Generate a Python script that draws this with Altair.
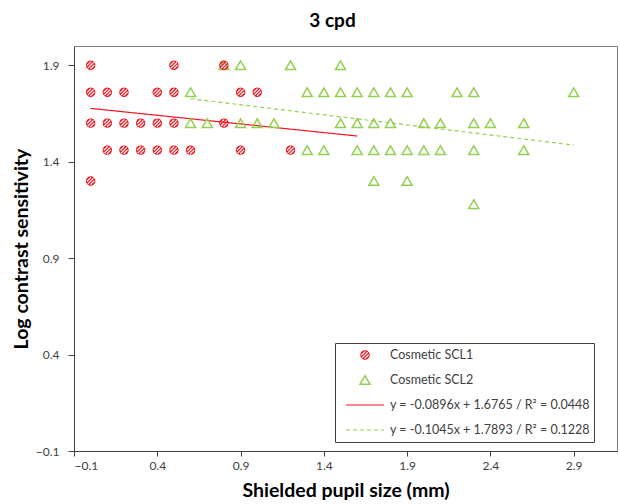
import math
import altair as alt
import pandas as pd

# ---------------- data ----------------
series_names = ["Cosmetic SCL1", "Cosmetic SCL2"]

scl1_x = [0.0, 0.5, 0.8,
          0.0, 0.1, 0.2, 0.4, 0.5, 0.9, 1.0,
          0.0, 0.1, 0.2, 0.3, 0.4, 0.5, 0.8,
          0.1, 0.2, 0.3, 0.4, 0.5, 0.6, 0.9, 1.2,
          0.0]
scl1_y = [1.9, 1.9, 1.9,
          1.76, 1.76, 1.76, 1.76, 1.76, 1.76, 1.76,
          1.6, 1.6, 1.6, 1.6, 1.6, 1.6, 1.6,
          1.46, 1.46, 1.46, 1.46, 1.46, 1.46, 1.46, 1.46,
          1.3]

scl2_x = [0.8, 0.9, 1.2, 1.5,
          0.6, 1.3, 1.4, 1.5, 1.6, 1.7, 1.8, 1.9, 2.2, 2.3, 2.9,
          0.6, 0.7, 0.9, 1.0, 1.1, 1.5, 1.6, 1.7, 1.8, 2.0, 2.1, 2.3, 2.4, 2.6,
          1.3, 1.4, 1.6, 1.7, 1.8, 1.9, 2.0, 2.1, 2.3, 2.6,
          1.7, 1.9,
          2.3]
scl2_y = [1.9, 1.9, 1.9, 1.9,
          1.76, 1.76, 1.76, 1.76, 1.76, 1.76, 1.76, 1.76, 1.76, 1.76, 1.76,
          1.6, 1.6, 1.6, 1.6, 1.6, 1.6, 1.6, 1.6, 1.6, 1.6, 1.6, 1.6, 1.6, 1.6,
          1.46, 1.46, 1.46, 1.46, 1.46, 1.46, 1.46, 1.46, 1.46, 1.46,
          1.3, 1.3,
          1.18]

trend_labels = ["y = -0.0896x + 1.6765 / R² = 0.0448",
                "y = -0.1045x + 1.7893 / R² = 0.1228"]
trend_slope = [-0.0896, -0.1045]
trend_intercept = [1.6765, 1.7893]
trend_x_from = [0.0, 0.6]
trend_x_to = [1.6, 2.9]

x_ticks = [-0.1, 0.4, 0.9, 1.4, 1.9, 2.4, 2.9]
y_ticks = [-0.1, 0.4, 0.9, 1.4, 1.9]

# ---------------- styling ----------------
RED = "#F0141E"
GREEN = "#92D050"
FONT = "Lato"
TXT = "#404040"

# hatched circle symbol: unit circle with diagonal stripe holes (nonzero winding)
def _area(pts):
    return sum(pts[i][0] * pts[(i + 1) % len(pts)][1] - pts[(i + 1) % len(pts)][0] * pts[i][1]
               for i in range(len(pts)))

circle = [(math.cos(2 * math.pi * k / 40), math.sin(2 * math.pi * k / 40)) for k in range(40)]
if _area(circle) < 0:
    circle = circle[::-1]
parts = ["M" + "L".join(f"{px:.3f},{py:.3f}" for px, py in circle) + "Z"]
s2 = 1 / math.sqrt(2)
d = (s2, -s2)
n = (s2, s2)
for c in (-0.5, 0.0, 0.5):
    w = 0.13
    r_in = 0.86
    L = math.sqrt(max(r_in ** 2 - (abs(c) + w) ** 2, 0.01))
    quad = []
    for a, b in ((c - w, -L), (c - w, L), (c + w, L), (c + w, -L)):
        quad.append((a * n[0] + b * d[0], a * n[1] + b * d[1]))
    if _area(quad) > 0:
        quad = quad[::-1]
    parts.append("M" + "L".join(f"{px:.3f},{py:.3f}" for px, py in quad) + "Z")
HATCH = "".join(parts)

legend_domain = series_names + trend_labels

# ---------------- frames ----------------
pts_df = pd.concat([
    pd.DataFrame({"x": scl2_x, "y": scl2_y, "series": series_names[1]}),
    pd.DataFrame({"x": scl1_x, "y": scl1_y, "series": series_names[0]}),
], ignore_index=True)

rows = []
for lab, m, b, x0, x1 in zip(trend_labels, trend_slope, trend_intercept, trend_x_from, trend_x_to):
    rows.append({"x": x0, "y": m * x0 + b, "series": lab})
    rows.append({"x": x1, "y": m * x1 + b, "series": lab})
trend_df = pd.DataFrame(rows)

xscale = alt.Scale(domain=[-0.1, 3.16], nice=False, zero=False)
yscale = alt.Scale(domain=[-0.1, 2.0], nice=False, zero=False)

xaxis = alt.Axis(values=x_ticks, format=".1f", title="Shielded pupil size (mm)", grid=False,
                 tickSize=5, labelPadding=4, titlePadding=10)
yaxis = alt.Axis(values=y_ticks, format=".1f", title="Log contrast sensitivity", grid=False,
                 tickSize=6, labelPadding=9, titlePadding=4)

leg = alt.Legend(title=None)

stroke_enc = alt.Stroke("series:N", scale=alt.Scale(domain=legend_domain,
                        range=["transparent", GREEN, RED, GREEN]), legend=leg)

lines = alt.Chart(trend_df).mark_line(strokeWidth=1.2).encode(
    x=alt.X("x:Q", scale=xscale, axis=xaxis),
    y=alt.Y("y:Q", scale=yscale, axis=yaxis),
    stroke=stroke_enc,
    strokeDash=alt.StrokeDash("series:N", scale=alt.Scale(domain=legend_domain,
                              range=[[1, 0], [1, 0], [1, 0], [4, 3]]), legend=leg),
)

points = alt.Chart(pts_df).mark_point(filled=False, opacity=1).encode(
    x=alt.X("x:Q", scale=xscale, axis=xaxis),
    y=alt.Y("y:Q", scale=yscale, axis=yaxis),
    shape=alt.Shape("series:N", scale=alt.Scale(domain=legend_domain,
                    range=[HATCH, "triangle-up", "stroke", "stroke"]), legend=leg),
    fill=alt.Fill("series:N", scale=alt.Scale(domain=legend_domain,
                  range=[RED, "transparent", "transparent", "transparent"]), legend=leg),
    stroke=stroke_enc,
    size=alt.Size("series:N", scale=alt.Scale(type="ordinal", domain=legend_domain,
                  range=[88, 100, 1444, 1444]), legend=leg),
    strokeWidth=alt.StrokeWidth("series:N", scale=alt.Scale(type="ordinal", domain=legend_domain,
                                range=[0, 1.5, 1.2, 1.2]), legend=leg),
    order=alt.Order("series:N", sort="descending"),
)

chart = alt.layer(lines, points).properties(
    width=543, height=405,
    padding={"left": 74, "top": 46, "right": 3, "bottom": 53},
    autosize=alt.AutoSizeParams(type="none"),
    title=alt.TitleParams("3 cpd", font=FONT, fontSize=19, fontWeight="bold", color="#000000",
                          anchor="middle", dx=-13, offset=0, baseline="alphabetic"),
).configure_view(
    stroke="#808080", strokeWidth=1
).configure_axis(
    labelFont=FONT, labelFontSize=12, labelColor=TXT,
    titleFont=FONT, titleFontSize=19.5, titleFontWeight="bold", titleColor="#000000",
    domainColor="#404040", tickColor="#404040",
).configure_legend(
    orient="none", legendX=261, legendY=297,
    fillColor="white", strokeColor="#404040", padding=4,
    labelFont=FONT, labelFontSize=12.5, labelColor=TXT, labelLimit=400,
    clipHeight=16, rowPadding=9, symbolOffset=6, labelOffset=5,
)

chart.save("out.html", embed_options={"renderer": "svg", "actions": False})
